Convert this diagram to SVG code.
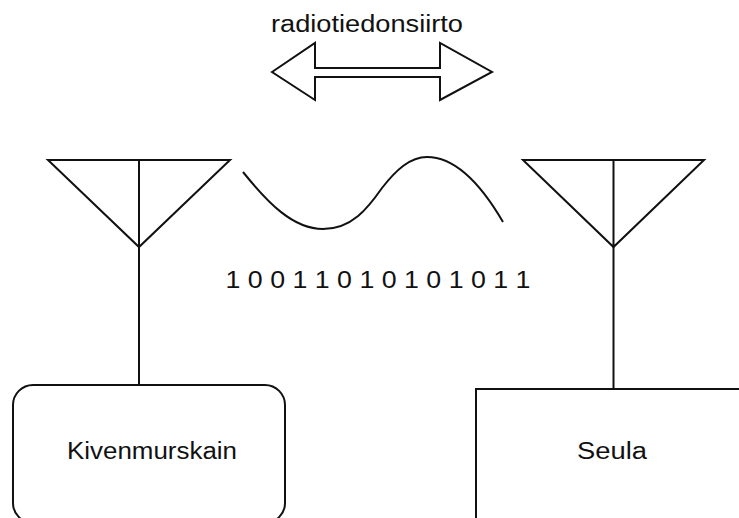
<svg xmlns="http://www.w3.org/2000/svg" width="739" height="518" viewBox="0 0 739 518">
<style>
.ln{fill:none;stroke:#111;stroke-width:2;stroke-linejoin:miter}
.box{fill:#fff;stroke:#111;stroke-width:2}
.t{font-family:"Liberation Sans",Arial,sans-serif;font-size:23px;fill:#111;text-anchor:middle}
</style>
<rect width="739" height="518" fill="#fff"/>
<g id="title">
<text class="t" x="367" y="32" textLength="192" lengthAdjust="spacingAndGlyphs">radiotiedonsiirto</text>
</g>
<g id="arrow">
<path class="ln" d="M272,72 L315,43 L315,68 L440,68 L440,43 L492,72 L440,100 L440,77 L315,77 L315,100 Z"/>
<path class="ln" stroke-width="3.2" d="M315,68 L440,68 M315,77 L440,77"/>
</g>
<g id="wave">
<path class="ln" stroke-width="2.2" d="M243,172 C268,203 293,229 323,229 C352,229 368,208 382,188 C396,170 410,157 427,157 C456,157 482,186 503,222"/>
</g>
<g id="bits">
<text class="t" x="378" y="288" textLength="305" lengthAdjust="spacingAndGlyphs">1 0 0 1 1 0 1 0 1 0 1 0 1 1</text>
</g>
<g id="antenna-left">
<path class="ln" d="M48,160 L230,160 L139,247 Z M139,160 L139,247"/>
</g>
<g id="antenna-right">
<path class="ln" d="M523,160 L704,160 L613.5,247 Z M613.5,160 L613.5,247"/>
</g>
<g id="connectors">
<line class="ln" x1="139" y1="247" x2="139" y2="385"/>
<line class="ln" x1="613.5" y1="247" x2="613.5" y2="389"/>
</g>
<g id="kivenmurskain">
<rect class="box" x="13" y="385" width="272" height="138" rx="20" ry="20"/>
<text class="t" x="152" y="459" textLength="170" lengthAdjust="spacingAndGlyphs">Kivenmurskain</text>
</g>
<g id="seula">
<rect class="box" x="476" y="389" width="280" height="140"/>
<text class="t" x="612" y="459" textLength="70" lengthAdjust="spacingAndGlyphs">Seula</text>
</g>
</svg>
